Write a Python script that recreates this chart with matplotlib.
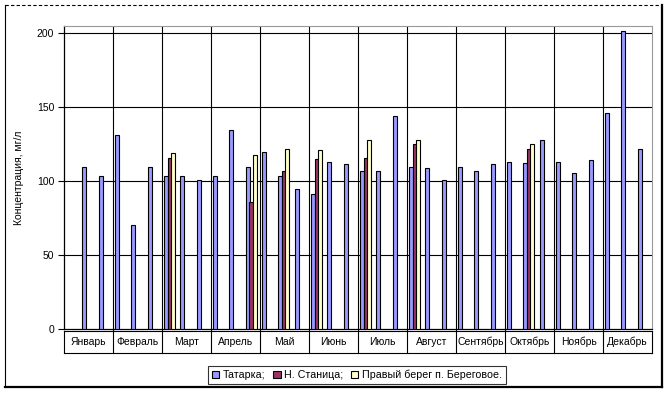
import numpy as np
import matplotlib
matplotlib.use("Agg")
import matplotlib.pyplot as plt
from matplotlib.lines import Line2D
from matplotlib.patches import Patch

plt.rcParams['font.family'] = ['Liberation Sans', 'DejaVu Sans']

months = ["Январь", "Февраль", "Март", "Апрель", "Май", "Июнь",
          "Июль", "Август", "Сентябрь", "Октябрь", "Ноябрь", "Декабрь"]
series_names = ["Татарка;", "Н. Станица;", "Правый берег п. Береговое."]
nan = np.nan

# three sampling slots per month
tatarka = [nan, 109.5, 103.6,
           131.0, 70.3, 109.5,
           103.6, 103.6, 100.7,
           103.6, 134.4, 109.5,
           119.6, 103.6, 94.6,
           91.4, 112.8, 111.5,
           106.7, 106.7, 143.9,
           109.5, 108.8, 100.7,
           109.5, 106.7, 111.5,
           112.8, 112.2, 127.9,
           112.8, 105.4, 114.2,
           145.9, 201.4, 121.6]
stanitsa = [nan, nan, nan,
            nan, nan, nan,
            115.7, nan, nan,
            nan, nan, 85.8,
            nan, 106.7, nan,
            114.9, nan, nan,
            115.7, nan, nan,
            125.2, nan, nan,
            nan, nan, nan,
            nan, 121.6, nan,
            nan, nan, nan,
            nan, nan, nan]
bereg = [nan, nan, nan,
         nan, nan, nan,
         118.9, nan, nan,
         nan, nan, 117.6,
         nan, 121.8, nan,
         120.9, nan, nan,
         127.9, nan, nan,
         127.9, nan, nan,
         nan, nan, nan,
         nan, 125.0, nan,
         nan, nan, nan,
         nan, nan, nan]

colors = ["#9999FF", "#993366", "#FFFFCC"]
W, H = 669, 393
fig = plt.figure(figsize=(W / 100, H / 100), dpi=100)
ax = fig.add_axes([64 / W, (H - 329.3) / H, (652 - 64) / W, (329.3 - 26) / H])

slots = np.arange(len(tatarka))
width = 0.245
offsets = [0.25, 0.46, 0.67]
for vals, off, c, name in zip([tatarka, stanitsa, bereg], offsets, colors, series_names):
    ax.bar(slots + off, vals, width=width, color=c, edgecolor="black",
           linewidth=0.8, label=name, zorder=3)

ax.set_xlim(0, 36)
ax.set_ylim(0, 205)
ax.set_yticks([0, 50, 100, 150, 200])
ax.set_xticks([])
ax.tick_params(axis="y", length=4, width=0.8, labelsize=7.5, pad=3)
for y in [50, 100, 150, 200]:
    ax.axhline(y, color="black", lw=0.8, zorder=1)
for m in range(1, 12):
    ax.axvline(m * 3, color="black", lw=0.8, zorder=1)

for side in ["top", "right"]:
    ax.spines[side].set_color("#999999")
    ax.spines[side].set_linestyle((0, (1, 1)))
    ax.spines[side].set_linewidth(0.8)
ax.spines["left"].set_linewidth(0.9)
ax.spines["bottom"].set_linewidth(0.9)

ax.set_ylabel("Концентрация, мг/л", fontsize=7.5, labelpad=9)

# month label table under the axis
tr = ax.get_xaxis_transform()
ybot = -(353 - 329.3) / (329.3 - 26)
ytop = -(331 - 329.3) / (329.3 - 26)
ax.plot([0, 36], [ybot, ybot], color="black", lw=0.8, transform=tr, clip_on=False)
ax.plot([0, 36], [ytop, ytop], color="black", lw=0.8, transform=tr, clip_on=False)
for m in range(13):
    ax.plot([m * 3, m * 3], [ybot, 0 if 0 < m < 12 else ytop], color="black", lw=0.8,
            transform=tr, clip_on=False)
for i, name in enumerate(months):
    ax.text(i * 3 + 1.5, (ybot + ytop) / 2, name, transform=tr, ha="center",
            va="center", fontsize=7.5)

handles = [Patch(facecolor=c, edgecolor="black", linewidth=0.8) for c in colors]
leg = fig.legend(handles, series_names, loc="center", ncol=3,
                 bbox_to_anchor=(357 / W, (H - 375) / H), fontsize=7.7,
                 frameon=True, fancybox=False, handlelength=0.7, handleheight=0.7,
                 handletextpad=0.35, columnspacing=0.7, borderpad=0.35)
leg.get_frame().set_edgecolor("black")
leg.get_frame().set_linewidth(0.8)

# outer chart border
fig.add_artist(Line2D([5 / W, 662 / W], [1 - 5 / H, 1 - 5 / H], color="black",
                      lw=0.8, ls=(0, (3, 2))))
fig.add_artist(Line2D([5 / W, 5 / W], [1 - 5 / H, 1 - 387 / H], color="black", lw=0.8))
fig.add_artist(Line2D([662 / W, 662 / W], [1 - 5 / H, 1 - 387 / H], color="black", lw=1.6))
fig.add_artist(Line2D([5 / W, 662 / W], [1 - 387 / H, 1 - 387 / H], color="black", lw=1.6))

fig.savefig("out.png", dpi=100)
